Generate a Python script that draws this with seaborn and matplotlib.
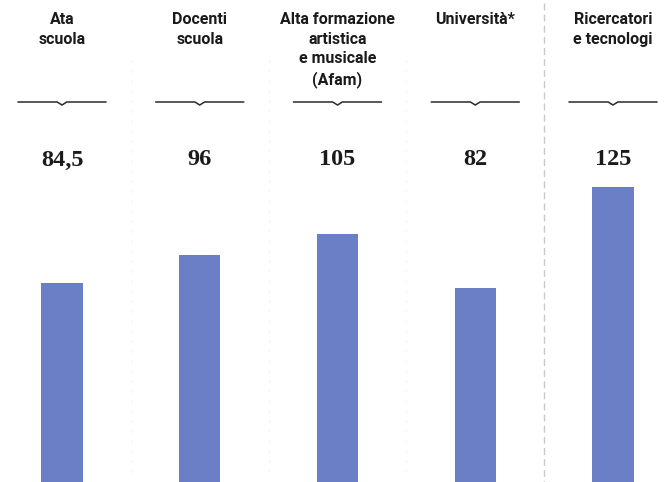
import matplotlib
matplotlib.use("Agg")
import matplotlib.pyplot as plt
import seaborn as sns
import pandas as pd

# Category headers and values
categories = [
    "Ata\nscuola",
    "Docenti\nscuola",
    "Alta formazione\nartistica\ne musicale\n(Afam)",
    "Università*",
    "Ricercatori\ne tecnologi",
]
values = [84.5, 96, 105, 82, 125]
value_labels = ["84,5", "96", "105", "82", "125"]

sns.set_theme(style="white")

W, H = 665, 482
fig = plt.figure(figsize=(W / 100, H / 100), dpi=100)
ax = fig.add_axes([0, 0, 1, 1])

df = pd.DataFrame({"cat": categories, "val": values})
sns.barplot(data=df, x="cat", y="val", color="#6a7fc6", saturation=1,
            width=0.3, ax=ax, linewidth=0)

step = 137.75          # px between bar centres
x0 = 62                # px of first bar centre
ppu = 2.36             # px per unit of value
ax.set_xlim(-x0 / step, (W - x0) / step)
ax.set_ylim(0, H / ppu)
ax.axis("off")

def py(p):
    """Vertical pixel (from top) to axes fraction."""
    return 1 - p / H

trans = ax.get_xaxis_transform()

for i, (cat, lab) in enumerate(zip(categories, value_labels)):
    ax.text(i, py(12), cat, transform=trans, ha="center", va="top",
            multialignment="center", fontsize=11.5, fontweight="bold",
            family="Roboto", color="#1a1a1a", linespacing=1.38)
    # brace-like rule under the header
    hw, nw, nd = 0.32, 0.035, 3
    ax.plot([i - hw, i - nw, i, i + nw, i + hw],
            [py(102), py(102), py(102 + nd), py(102), py(102)],
            transform=trans, color="#2a2a2a", lw=1.1,
            solid_joinstyle="miter", clip_on=False)
    ax.text(i, py(160), lab, transform=trans, ha="center", va="center",
            fontsize=17.5, fontweight="bold", family="Liberation Serif",
            color="#1a1a1a")

# column separators
for xs in [0.5, 1.5, 2.5]:
    ax.plot([xs, xs], [py(60), py(480)], transform=trans, color="#efefef",
            lw=0.8, ls=(0, (2, 7)))
ax.plot([3.5, 3.5], [py(3), py(482)], transform=trans, color="#c9c9c9",
        lw=1.0, ls=(0, (5, 3)))

fig.savefig("out.png", dpi=100)
